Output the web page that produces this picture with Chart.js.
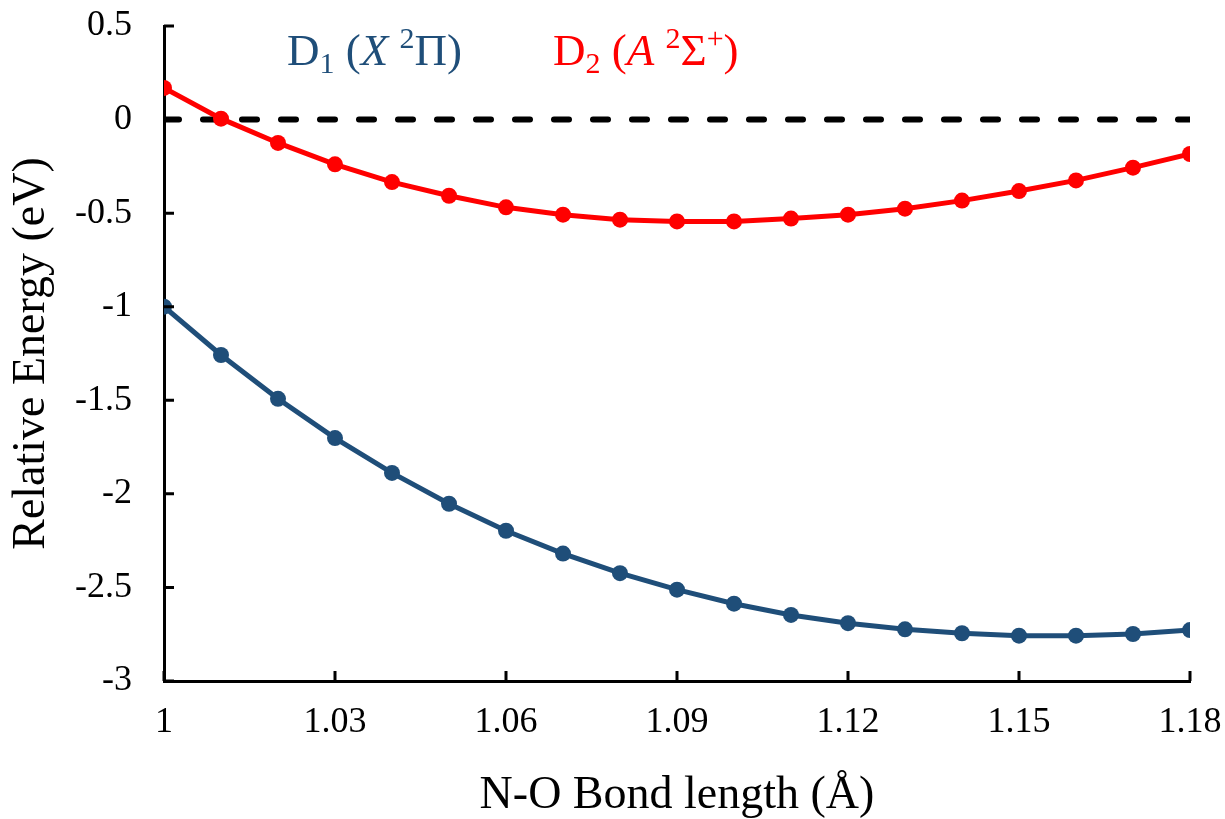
<!DOCTYPE html>
<html>
<head>
<meta charset="utf-8">
<script src="https://cdn.jsdelivr.net/npm/chart.js@4"></script>
<style>
  html, body { margin: 0; padding: 0; background: #fff; }
  #wrap { width: 1225px; height: 819px; position: relative; }
</style>
</head>
<body>
<div id="wrap"><canvas id="pesChart"></canvas></div>
<script>
// N-O bond length (Å) and relative energies (eV)
const bondLength = [1.00, 1.01, 1.02, 1.03, 1.04, 1.05, 1.06, 1.07, 1.08, 1.09,
                    1.10, 1.11, 1.12, 1.13, 1.14, 1.15, 1.16, 1.17, 1.18];
const d1Energy = [-1.00, -1.258, -1.492, -1.702, -1.888, -2.053, -2.197, -2.319, -2.424, -2.512,
                  -2.587, -2.647, -2.691, -2.724, -2.745, -2.758, -2.758, -2.749, -2.728];
const d2Energy = [0.169, 0.005, -0.125, -0.239, -0.334, -0.407, -0.469, -0.508, -0.535, -0.544,
                  -0.544, -0.529, -0.508, -0.476, -0.433, -0.382, -0.325, -0.257, -0.184];
const zeroLineX = [1.00, 1.18];
const zeroLineY = [0, 0];
const xTickValues = [1, 1.03, 1.06, 1.09, 1.12, 1.15, 1.18];
const yTickValues = [0.5, 0, -0.5, -1, -1.5, -2, -2.5, -3];

const blue = '#1F4E79';
const red = '#FF0000';
const serif = "'Liberation Serif', 'Times New Roman', serif";

function toPoints(xs, ys) {
  return xs.map((x, i) => ({ x, y: ys[i] }));
}

// state labels drawn as runs of mixed text (sub/superscripts, italics)
const stateLabels = [
  { color: blue, x: 287, y: 65, runs: [
    ['D', 'n'], ['1', 'sub'], [' (', 'n'], ['X', 'i'], [' ', 'n'], ['2', 'sup'], ['Π', 'n'], [')', 'n'] ] },
  { color: red, x: 553, y: 65, runs: [
    ['D', 'n'], ['2', 'sub'], [' (', 'n'], ['A', 'i'], [' ', 'n'], ['2', 'sup'], ['Σ', 'n'], ['+', 'sup'], [')', 'n'] ] }
];

const labelPlugin = {
  id: 'stateLabels',
  afterDraw(chart) {
    const ctx = chart.ctx;
    ctx.save();
    ctx.textBaseline = 'alphabetic';
    ctx.textAlign = 'left';
    stateLabels.forEach(lab => {
      let x = lab.x;
      ctx.fillStyle = lab.color;
      lab.runs.forEach(([t, s]) => {
        let size = 45, dy = 0, style = '';
        if (s === 'sub') { size = 30; dy = 8; }
        if (s === 'sup') { size = 30; dy = -17; }
        if (s === 'i') style = 'italic ';
        ctx.font = style + size + 'px ' + serif;
        ctx.fillText(t, x, lab.y + dy);
        x += ctx.measureText(t).width;
      });
    });
    ctx.restore();
  }
};

// tick marks pointing into the plot area
const innerTicks = {
  id: 'innerTicks',
  afterDatasetsDraw(chart) {
    const { ctx, chartArea, scales } = chart;
    ctx.save();
    ctx.strokeStyle = '#000';
    ctx.lineWidth = 3;
    ctx.beginPath();
    scales.x.ticks.forEach(t => {
      const px = scales.x.getPixelForValue(t.value);
      ctx.moveTo(px, chartArea.bottom);
      ctx.lineTo(px, chartArea.bottom - 10);
    });
    scales.y.ticks.forEach(t => {
      const py = scales.y.getPixelForValue(t.value);
      ctx.moveTo(chartArea.left, py);
      ctx.lineTo(chartArea.left + 10, py);
    });
    ctx.stroke();
    ctx.restore();
  }
};

new Chart(document.getElementById('pesChart'), {
  type: 'line',
  data: {
    datasets: [
      {
        label: 'D2',
        data: toPoints(bondLength, d2Energy),
        borderColor: red,
        backgroundColor: red,
        pointBackgroundColor: red,
        pointBorderColor: red,
        borderWidth: 5,
        pointRadius: 8,
        pointBorderWidth: 0,
        tension: 0
      },
      {
        label: 'D1',
        data: toPoints(bondLength, d1Energy),
        borderColor: blue,
        backgroundColor: blue,
        pointBackgroundColor: blue,
        pointBorderColor: blue,
        borderWidth: 5,
        pointRadius: 8,
        pointBorderWidth: 0,
        tension: 0
      },
      {
        label: 'zero',
        data: toPoints(zeroLineX, zeroLineY),
        borderColor: '#000',
        borderWidth: 6,
        borderDash: [15, 24],
        borderCapStyle: 'round',
        pointRadius: 0
      }
    ]
  },
  options: {
    responsive: true,
    maintainAspectRatio: false,
    animation: false,
    layout: { padding: { left: 0, right: 35, top: 26, bottom: 0 } },
    plugins: {
      legend: { display: false },
      tooltip: { enabled: false }
    },
    scales: {
      x: {
        type: 'linear',
        min: 1,
        max: 1.18,
        afterFit: s => { s.height = 138; s.paddingLeft = 0; s.paddingRight = 0; },
        afterBuildTicks: s => { s.ticks = xTickValues.map(v => ({ value: v })); },
        grid: { drawOnChartArea: false, drawTicks: false },
        border: { color: '#000', width: 3 },
        ticks: {
          padding: 20,
          color: '#000',
          maxRotation: 0,
          font: { family: serif, size: 36 },
          callback: v => String(+v.toFixed(2))
        },
        title: {
          display: true,
          text: 'N-O Bond length (Å)',
          color: '#000',
          padding: 0,
          font: { family: serif, size: 46, lineHeight: 1 }
        }
      },
      y: {
        min: -3,
        max: 0.5,
        afterFit: s => { s.width = 164; s.paddingTop = 0; s.paddingBottom = 0; },
        afterBuildTicks: s => { s.ticks = yTickValues.map(v => ({ value: v })); },
        grid: { drawOnChartArea: false, drawTicks: false },
        border: { color: '#000', width: 3 },
        ticks: {
          padding: 32,
          color: '#000',
          font: { family: serif, size: 36 },
          callback: v => String(+v.toFixed(1))
        },
        title: {
          display: true,
          text: 'Relative Energy (eV)',
          color: '#000',
          padding: { top: 9, bottom: 0 },
          font: { family: serif, size: 46, lineHeight: 1 }
        }
      }
    }
  },
  plugins: [innerTicks, labelPlugin]
});
</script>
</body>
</html>
